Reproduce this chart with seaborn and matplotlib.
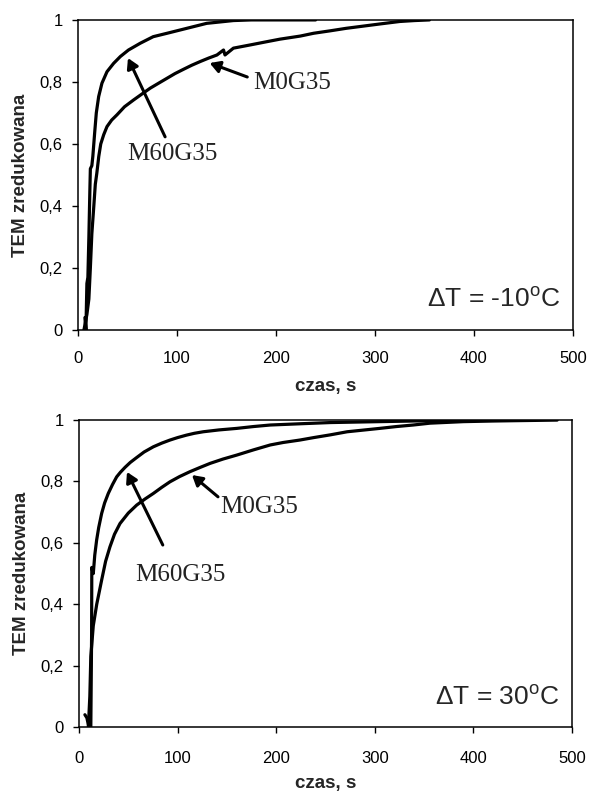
import numpy as np
import pandas as pd
import seaborn as sns
import matplotlib.pyplot as plt

# dT = -10 C panel
top_m60_x = [7, 8, 9, 10, 11, 12, 12.5, 14, 15, 16.8, 18.5, 20.9, 24.2, 29.3, 36, 42.8, 51, 63,
             76, 90, 110, 130, 157, 175, 200, 240]
top_m60_y = [0.04, 0.0, 0.15, 0.17, 0.30, 0.45, 0.52, 0.53, 0.56, 0.634, 0.70, 0.753, 0.796,
             0.833, 0.86, 0.882, 0.903, 0.925, 0.946, 0.957, 0.973, 0.989, 0.998, 1.0, 1.0, 1.0]
top_m0_x = [6, 9, 11, 12.5, 14, 16, 17.5, 19, 21, 23, 26, 29.3, 34, 39.4, 47, 56.2, 65, 73, 82,
            90, 98, 106.7, 115, 123.6, 132, 140.4, 147, 148.5, 157, 175, 191, 204, 224.6, 238,
            255, 271, 288, 305, 325, 340, 355]
top_m0_y = [0.0, 0.05, 0.10, 0.20, 0.31, 0.40, 0.47, 0.505, 0.56, 0.60, 0.63, 0.656, 0.677,
            0.694, 0.72, 0.742, 0.762, 0.78, 0.797, 0.812, 0.827, 0.841, 0.854, 0.866, 0.877,
            0.887, 0.903, 0.887, 0.909, 0.92, 0.93, 0.938, 0.948, 0.957, 0.965, 0.973, 0.98,
            0.987, 0.995, 0.998, 1.0]

# dT = 30 C panel
bot_m60_x = [6, 8, 10, 12, 12.8, 13, 14.5, 16, 17.9, 20, 23, 26, 29.7, 34, 38.2, 42, 46.7, 52,
             58.5, 66, 75.4, 84, 92.3, 100, 109, 117, 126, 142, 160, 177, 194, 224, 255, 305,
             356, 400, 455]
bot_m60_y = [0.04, 0.03, 0.0, 0.0, 0.30, 0.52, 0.50, 0.56, 0.609, 0.65, 0.696, 0.73, 0.761,
             0.79, 0.815, 0.83, 0.846, 0.862, 0.878, 0.896, 0.913, 0.925, 0.935, 0.943, 0.951,
             0.957, 0.962, 0.968, 0.973, 0.979, 0.984, 0.988, 0.992, 0.995, 0.998, 1.0, 1.0]
bot_m0_x = [9.5, 11, 12, 14.5, 18, 23, 27, 31.4, 36, 41.6, 50, 58.5, 67, 75.4, 84, 92.3, 102,
            112.6, 123, 133, 146, 160, 177, 194, 207, 224, 238, 255, 272, 290, 305, 322, 339,
            356, 390, 420, 440, 485]
bot_m0_y = [0.0, 0.10, 0.23, 0.33, 0.40, 0.479, 0.54, 0.587, 0.628, 0.663, 0.697, 0.723, 0.743,
            0.761, 0.781, 0.799, 0.816, 0.832, 0.846, 0.859, 0.873, 0.886, 0.903, 0.919, 0.927,
            0.935, 0.943, 0.952, 0.962, 0.968, 0.973, 0.979, 0.984, 0.99, 0.995, 0.997, 0.998,
            1.0]

x_ticks = [0, 100, 200, 300, 400, 500]
y_ticks = [0, 0.2, 0.4, 0.6, 0.8, 1.0]
y_tick_labels = ["0", "0,2", "0,4", "0,6", "0,8", "1"]

sns.set_style("ticks")
plt.rcParams["font.family"] = ["Liberation Sans", "DejaVu Sans"]

fig = plt.figure(figsize=(5.89, 7.91), dpi=100)
ax1 = fig.add_axes([0.1324, 0.5828, 0.8404, 0.392])
ax2 = fig.add_axes([0.1341, 0.0809, 0.8370, 0.388])

panels = [
    (ax1, top_m60_x, top_m60_y, top_m0_x, top_m0_y, "\u0394T = -10$^{\\mathregular{o}}$C", 11,
     dict(m0_text=(177, 0.797), m0_tail=(171, 0.816), m0_head=(133, 0.861),
          m60_text=(49.5, 0.568), m60_tail=(88, 0.623), m60_head=(50.5, 0.877))),
    (ax2, bot_m60_x, bot_m60_y, bot_m0_x, bot_m0_y, "\u0394T = 30$^{\\mathregular{o}}$C", 13.5,
     dict(m0_text=(143, 0.717), m0_tail=(141, 0.75), m0_head=(114.6, 0.821),
          m60_text=(56.8, 0.495), m60_tail=(85, 0.593), m60_head=(48.7, 0.831))),
]

for ax, x60, y60, x0, y0, label, xpad, ann in panels:
    df = pd.concat([
        pd.DataFrame({"czas": x60, "tem": y60, "probka": "M60G35"}),
        pd.DataFrame({"czas": x0, "tem": y0, "probka": "M0G35"}),
    ], ignore_index=True)
    sns.lineplot(data=df, x="czas", y="tem", units="probka", estimator=None, sort=False,
                 color="black", linewidth=2.3, ax=ax, legend=False)
    ax.set_xlim(0, 500)
    ax.set_ylim(0, 1)
    ax.set_xticks(x_ticks)
    ax.set_yticks(y_ticks)
    ax.set_yticklabels(y_tick_labels)
    ax.tick_params(labelsize=12, direction="out", length=4, width=1, color="black",
                   labelcolor="black")
    ax.tick_params(axis="x", pad=xpad)
    ax.tick_params(axis="y", pad=7)
    for sp in ax.spines.values():
        sp.set_visible(True)
        sp.set_linewidth(1.1)
        sp.set_color("black")
    ax.set_xlabel("czas, s", fontsize=13.5, fontweight="bold")
    ax.set_ylabel("TEM zredukowana", fontsize=13.5, fontweight="bold")
    ax.xaxis.set_label_coords(0.5, -0.155)
    ax.yaxis.set_label_coords(-0.099, 0.5)

    arrow = dict(arrowstyle="-|>,head_length=0.6,head_width=0.35", color="black",
                 linewidth=2.2, shrinkA=0, shrinkB=0)
    ax.annotate("", xy=ann["m0_head"], xytext=ann["m0_tail"], arrowprops=arrow)
    ax.annotate("", xy=ann["m60_head"], xytext=ann["m60_tail"], arrowprops=arrow)
    ax.text(*ann["m0_text"], "M0G35", family="Liberation Serif", fontsize=18,
            va="center", ha="left", color="#222222")
    ax.text(*ann["m60_text"], "M60G35", family="Liberation Serif", fontsize=18,
            va="center", ha="left", color="#222222")
    ax.text(487, 0.097, label, fontsize=19, ha="right", va="center")

fig.savefig("out.png", dpi=100)
